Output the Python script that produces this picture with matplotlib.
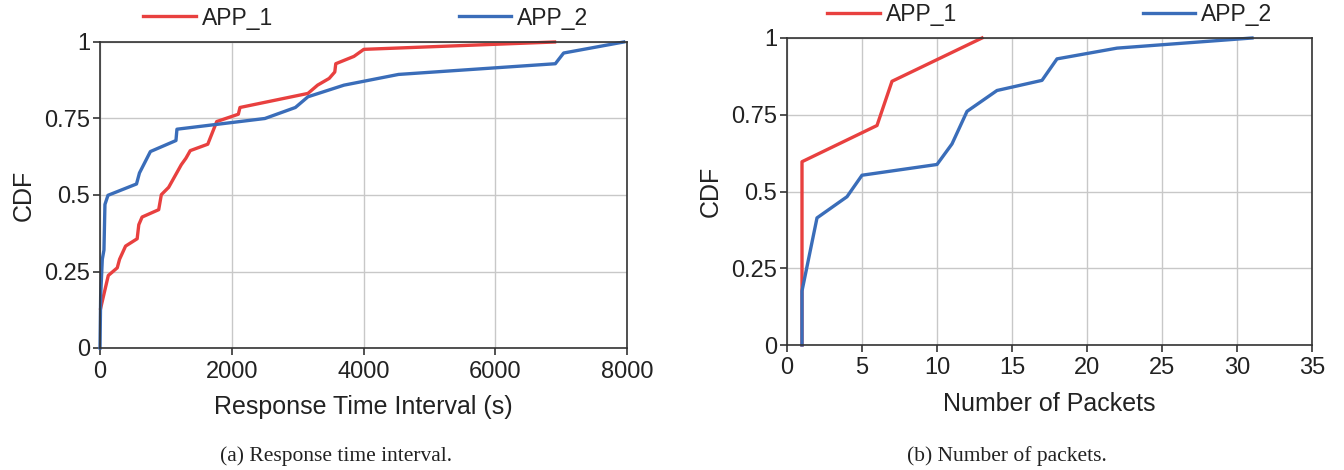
import matplotlib.pyplot as plt

plt.rcParams['font.family'] = ['Liberation Sans', 'DejaVu Sans']

# (a) response time interval CDF
resp_app1_x = [10, 126, 262, 297, 388, 564, 589, 639, 891, 931, 1042, 1234, 1304, 1370,
               1636, 1772, 2100, 2125, 3157, 3303, 3479, 3564, 3579, 3855, 4005, 6900]
resp_app1_y = [0.13, 0.237, 0.262, 0.29, 0.333, 0.357, 0.403, 0.428, 0.452, 0.501, 0.525,
               0.599, 0.62, 0.645, 0.666, 0.74, 0.764, 0.786, 0.832, 0.859, 0.881, 0.902,
               0.929, 0.953, 0.976, 1.0]
resp_app2_x = [0, 10, 35, 60, 75, 121, 554, 599, 675, 765, 1153, 1168, 2503, 2966, 3157,
               3704, 4531, 6912, 7038, 7950]
resp_app2_y = [0, 0.17, 0.29, 0.32, 0.469, 0.499, 0.536, 0.572, 0.604, 0.642, 0.678, 0.715,
               0.75, 0.786, 0.821, 0.859, 0.894, 0.929, 0.964, 1.0]

# (b) number of packets CDF
pkt_app1_x = [1, 1, 6, 7, 13]
pkt_app1_y = [0, 0.597, 0.715, 0.859, 1.0]
pkt_app2_x = [1, 1, 2, 4, 5, 10, 11, 12, 14, 17, 18, 22, 31]
pkt_app2_y = [0, 0.176, 0.414, 0.483, 0.553, 0.588, 0.655, 0.761, 0.829, 0.862, 0.932, 0.967, 1.0]

y_ticks = [0, 0.25, 0.5, 0.75, 1]
y_labels = ['0', '0.25', '0.5', '0.75', '1']

red = '#E8403F'
blue = '#3A6DB9'

W, H = 1344, 470
fig = plt.figure(figsize=(W / 100, H / 100), dpi=100)
ax1 = fig.add_axes([100 / W, 1 - 348 / H, 527 / W, 306 / H])
ax2 = fig.add_axes([787 / W, 1 - 345 / H, 525 / W, 307 / H])


def style(ax, xlim, xticks, xlabel):
    ax.set_xlim(*xlim)
    ax.set_ylim(0, 1)
    ax.set_xticks(xticks)
    ax.set_yticks(y_ticks)
    ax.set_yticklabels(y_labels)
    ax.grid(True, color='#c8c8c8', linewidth=1)
    ax.set_axisbelow(True)
    for s in ax.spines.values():
        s.set_color('#333333')
        s.set_linewidth(1.2)
    ax.tick_params(labelsize=17, color='#333333', length=5, width=1.2, pad=2,
                   labelcolor='#222222')
    ax.tick_params(axis='x', pad=4)
    ax.set_xlabel(xlabel, fontsize=18, labelpad=9, color='#222222')
    ax.set_ylabel('CDF', fontsize=18, labelpad=6, color='#222222')


def top_legend(ax, x_px, y_px):
    ax.legend(loc='center left', bbox_to_anchor=(x_px / W, 1 - y_px / H),
              bbox_transform=fig.transFigure, ncol=2, frameon=False,
              fontsize=16.5, handlelength=2.3, columnspacing=8.1,
              handletextpad=0.26, borderaxespad=0, borderpad=0,
              labelcolor='#222222')


ax1.plot(resp_app1_x, resp_app1_y, color=red, lw=2.4, label='APP_1', clip_on=False)
ax1.plot(resp_app2_x, resp_app2_y, color=blue, lw=2.4, label='APP_2', clip_on=False)
style(ax1, (0, 8000), [0, 2000, 4000, 6000, 8000], 'Response Time Interval (s)')
top_legend(ax1, 143, 18)

ax2.plot(pkt_app1_x, pkt_app1_y, color=red, lw=2.4, label='APP_1', clip_on=False)
ax2.plot(pkt_app2_x, pkt_app2_y, color=blue, lw=2.4, label='APP_2', clip_on=False)
style(ax2, (0, 35), list(range(0, 36, 5)), 'Number of Packets')
top_legend(ax2, 827, 15)

fig.text(336 / W, 1 - 456 / H, '(a) Response time interval.', ha='center', va='center',
         fontsize=15.5, family='Liberation Serif', color='#222222')
fig.text(1007 / W, 1 - 456 / H, '(b) Number of packets.', ha='center', va='center',
         fontsize=15.5, family='Liberation Serif', color='#222222')

fig.savefig('out.png', dpi=100)
